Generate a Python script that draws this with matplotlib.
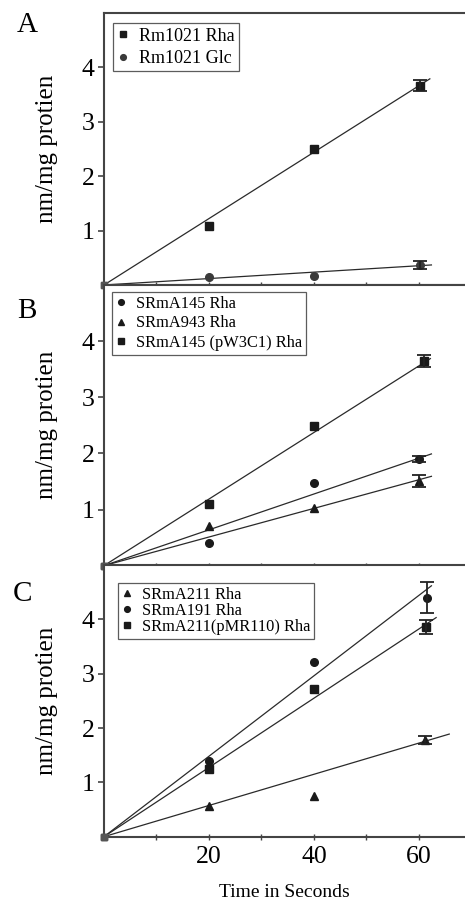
import numpy as np
import matplotlib
matplotlib.use("Agg")
import matplotlib.pyplot as plt

plt.rcParams['font.family'] = ['Liberation Serif', 'DejaVu Serif']

# panel A
a_names = ["Rm1021 Rha", "Rm1021 Glc"]
a_markers = ["s", "o"]
a_x = [[0, 20, 40, 60.2], [0, 20, 40, 60.3]]
a_y = [[0, 1.08, 2.5, 3.66], [0, 0.14, 0.17, 0.37]]
a_err = [0.1, 0.07]
a_slope = [0.061, 0.0059]
a_end = [62.1, 62.4]

# panel B
b_names = ["SRmA145 Rha", "SRmA943 Rha", "SRmA145 (pW3C1) Rha"]
b_markers = ["o", "^", "s"]
b_x = [[0, 20, 40, 60], [0, 20, 40, 60], [0, 20, 40, 61]]
b_y = [[0, 0.41, 1.48, 1.90], [0, 0.71, 1.02, 1.51], [0, 1.10, 2.49, 3.65]]
b_err = [0.06, 0.1, 0.11]
b_slope = [0.0319, 0.0255, 0.0593]
b_end = [62.4, 62.4, 62.2]

# panel C
c_names = ["SRmA211 Rha", "SRmA191 Rha", "SRmA211(pMR110) Rha"]
c_markers = ["^", "o", "s"]
c_x = [[0, 20, 40, 61.1], [0, 20, 40, 61.5], [0, 20, 40, 61.4]]
c_y = [[0, 0.56, 0.74, 1.78], [0, 1.39, 3.21, 4.40], [0, 1.25, 2.71, 3.86]]
c_err = [0.08, 0.28, 0.13]
c_slope = [0.0287, 0.074, 0.0637]
c_end = [65.8, 62.4, 63.3]

x_ticks = [20, 40, 60]
y_ticks = [1, 2, 3, 4]

fig = plt.figure(figsize=(4.65, 9.01), dpi=100)

left = 104 / 465
width = 1 - left
boxes = [(0.6837, 0.302), (0.3722, 0.3115), (0.0714, 0.3015)]
# legend: anchor (px), font size, row spacing
leg_cfg = [((113, 23), 13, 0.3), ((112, 292), 11.8, 0.2), ((118, 583), 11.8, 0.0)]
letter_pos = [(27, 25), (27, 311), (22, 594)]
panels = [
    ("A", a_names, a_markers, a_x, a_y, a_err, a_slope, a_end, ["#1a1a1a", "#3a3a3a"]),
    ("B", b_names, b_markers, b_x, b_y, b_err, b_slope, b_end, ["#1a1a1a"] * 3),
    ("C", c_names, c_markers, c_x, c_y, c_err, c_slope, c_end, ["#1a1a1a"] * 3),
]

for i, (letter, names, markers, xs, ys, errs, slopes, ends, cols) in enumerate(panels):
    b, h = boxes[i]
    ax = fig.add_axes([left, b, width, h])
    ax.set_xlim(0, 68.8)
    ax.set_ylim(0, 5)
    for name, m, x, y, e, s, end, col in zip(names, markers, xs, ys, errs, slopes, ends, cols):
        xx = np.array([0, end])
        ax.plot(xx, s * xx, color="#2a2a2a", lw=0.9, zorder=2)
        ax.plot(x[1:], y[1:], m, color=col, ms=5.5, ls="none", label=name, zorder=3)
        ax.errorbar(x[-1], y[-1], yerr=e, fmt="none", ecolor="#222222",
                    elinewidth=1.3, capsize=5, capthick=1.3, zorder=3)
        ax.plot(x[0], y[0], "s", color="#555555", ms=5, clip_on=False, zorder=4)
    ax.spines["right"].set_visible(False)
    for sp in ["left", "top", "bottom"]:
        ax.spines[sp].set_color("#444444")
        ax.spines[sp].set_linewidth(1.5)
    ax.set_yticks(y_ticks)
    ax.set_yticklabels([str(t) for t in y_ticks], fontsize=18.5)
    ax.tick_params(axis="y", direction="out", length=4, width=1.2, color="#444444", pad=3)
    ax.set_xticks(np.arange(10, 70, 10))
    ax.tick_params(axis="x", direction="inout", length=4, width=1.0, color="#444444", pad=5)
    if letter == "C":
        ax.set_xticklabels(["" if t not in x_ticks else str(t) for t in range(10, 70, 10)], fontsize=18.5)
        ax.set_xlabel("Time in Seconds", fontsize=14, labelpad=11)
    else:
        ax.set_xticklabels([])
    ax.set_ylabel("nm/mg protien", fontsize=18)
    ax.yaxis.set_label_coords(-0.128, 0.5)
    (lx, ly), lfs, lsp = leg_cfg[i]
    leg = ax.legend(loc="upper left", bbox_to_anchor=(lx / 465, 1 - ly / 901),
                    bbox_transform=fig.transFigure, fontsize=lfs, frameon=True,
                    fancybox=False, edgecolor="#333333", handlelength=0.6,
                    handletextpad=0.6, borderpad=0.25, labelspacing=lsp,
                    markerscale=0.75, borderaxespad=0)
    leg.get_frame().set_linewidth(0.9)
    fig.text(letter_pos[i][0] / 465, 1 - letter_pos[i][1] / 901, letter,
             fontsize=21, ha="center", va="center")

fig.savefig("out.png", dpi=100)
